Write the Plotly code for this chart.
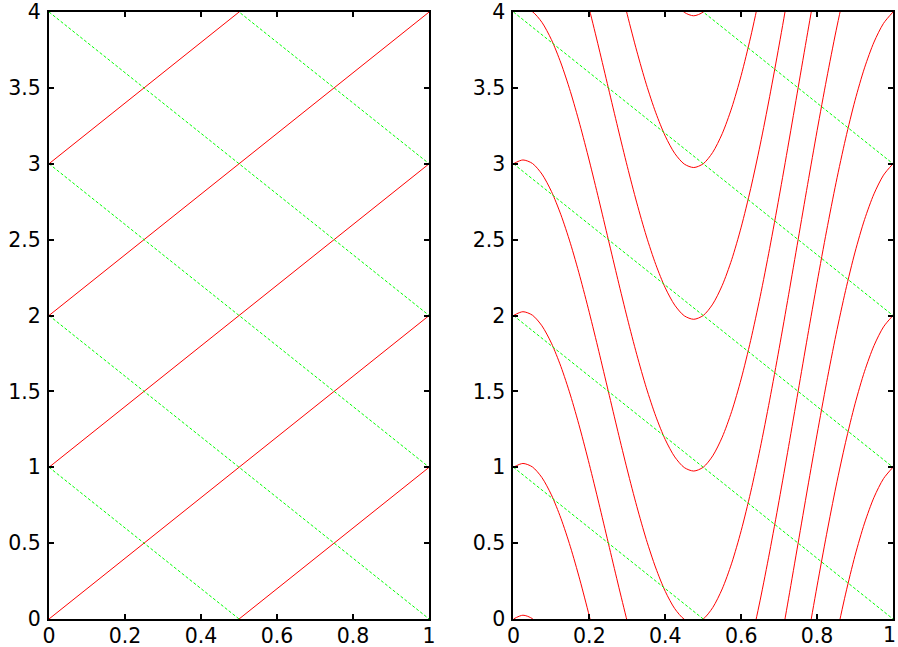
import plotly.graph_objects as go
from plotly.subplots import make_subplots

# ---- Left panel: straight lines, drawn as a unit segment plus offsets ----
line_x = [0.0, 1.0]
red_left_rise = [0.0, 2.0]          # red lines climb 2 units over x 0..1
red_left_offsets = [-1, 0, 1, 2, 3]
green_rise = [0.0, -2.0]            # green dashed lines fall 2 units over x 0..1
green_offsets = [1, 2, 3, 4, 5]

# ---- Right panel: one red curve, repeated every unit in y ----
curve_x = [0.000, 0.025, 0.050, 0.075, 0.100, 0.125, 0.150, 0.175, 0.200, 0.225,
           0.250, 0.275, 0.300, 0.325, 0.350, 0.375, 0.400, 0.425, 0.450, 0.475,
           0.500, 0.525, 0.550, 0.575, 0.600, 0.625, 0.650, 0.675, 0.700, 0.725,
           0.750, 0.775, 0.800, 0.825, 0.850, 0.875, 0.900, 0.925, 0.950, 0.975,
           1.000]
curve_y = [0.000, 0.025, 0.002, -0.068, -0.182, -0.336, -0.524, -0.742, -0.982, -1.237,
           -1.500, -1.763, -2.018, -2.258, -2.476, -2.664, -2.818, -2.932, -3.002, -3.025,
           -3.000, -2.925, -2.802, -2.632, -2.418, -2.164, -1.876, -1.558, -1.218, -0.863,
           -0.500, -0.137, 0.218, 0.558, 0.876, 1.164, 1.418, 1.632, 1.802, 1.925,
           2.000]
red_right_offsets = [-1, 0, 1, 2, 3, 4, 5, 6, 7]

x_ticks = [0, 0.2, 0.4, 0.6, 0.8, 1]
y_ticks = [0, 0.5, 1, 1.5, 2, 2.5, 3, 3.5, 4]

RED = "#ff0000"
GREEN = "#00ff00"

fig = make_subplots(rows=1, cols=2, horizontal_spacing=0.0)

for c in red_left_offsets:
    fig.add_trace(go.Scatter(x=line_x, y=[c + r for r in red_left_rise], mode="lines",
                             line=dict(color=RED, width=1), showlegend=False,
                             hoverinfo="skip"), row=1, col=1)
for c in green_offsets:
    fig.add_trace(go.Scatter(x=line_x, y=[c + r for r in green_rise], mode="lines",
                             line=dict(color=GREEN, width=1, dash="3px,2px"),
                             showlegend=False, hoverinfo="skip"), row=1, col=1)

for c in red_right_offsets:
    fig.add_trace(go.Scatter(x=curve_x, y=[c + v for v in curve_y], mode="lines",
                             line=dict(color=RED, width=1, shape="spline", smoothing=0.8),
                             showlegend=False, hoverinfo="skip"), row=1, col=2)
for c in green_offsets:
    fig.add_trace(go.Scatter(x=line_x, y=[c + r for r in green_rise], mode="lines",
                             line=dict(color=GREEN, width=1, dash="3px,2px"),
                             showlegend=False, hoverinfo="skip"), row=1, col=2)

font = dict(family="DejaVu Sans, Verdana, sans-serif", size=20.5, color="black")
axis_common = dict(showline=True, linecolor="black", linewidth=2, mirror="ticks",
                   ticks="inside", ticklen=5, tickwidth=2, tickcolor="black",
                   showgrid=False, zeroline=False, automargin=False, tickfont=font)

x_labels = [f"{v:g}" for v in x_ticks]
fig.update_xaxes(range=[0, 1], tickvals=x_ticks, ticktext=x_labels,
                 ticklabelstandoff=-3, **axis_common)
fig.update_yaxes(range=[0, 4], tickvals=y_ticks, ticktext=[f"{v:g}" for v in y_ticks],
                 ticklabelstandoff=2, **axis_common)
# the last label of the right panel sits on the page edge; draw it as an annotation
fig.update_layout(xaxis=dict(domain=[0.0, 0.4504]),
                  xaxis2=dict(domain=[0.5503, 1.0], ticktext=x_labels[:-1] + [""]))
fig.add_annotation(x=1, xref="paper", y=0, yref="paper", text=x_labels[-1],
                   showarrow=False, xanchor="right", yanchor="top", xshift=5, yshift=-2,
                   font=font)

fig.update_layout(width=898, height=647, margin=dict(l=49, r=5, t=12, b=28),
                  paper_bgcolor="white", plot_bgcolor="white")

fig.write_html("out.html", config={"displayModeBar": False},
               post_script="document.body.style.margin='0px';"
                           "document.body.style.overflow='hidden';")
